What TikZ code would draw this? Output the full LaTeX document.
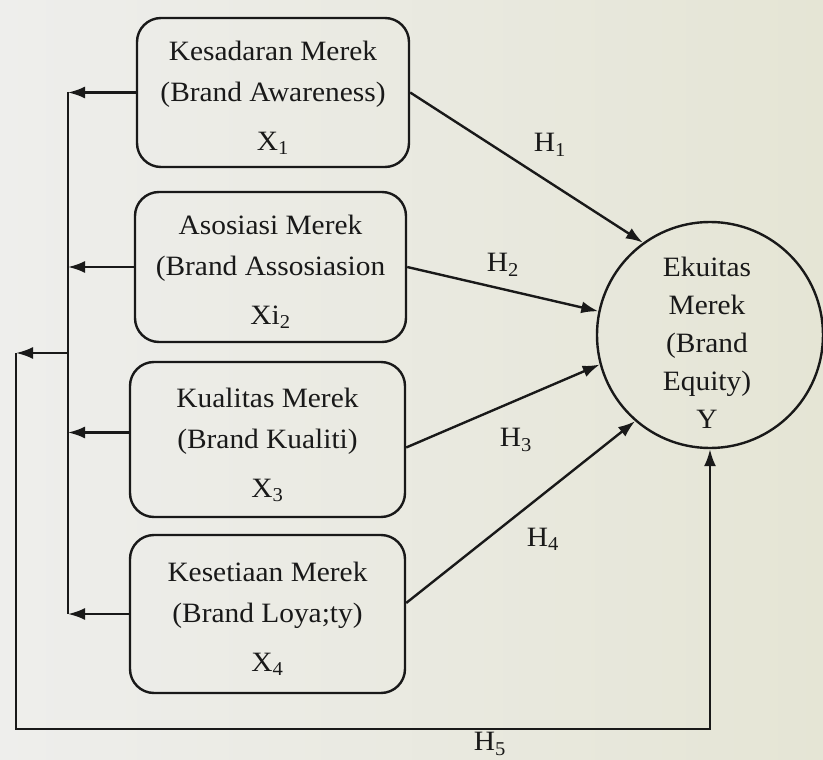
\documentclass[tikz,border=0pt]{standalone}
\usepackage{fontspec}
\setmainfont{Liberation Serif}[FakeStretch=1.05]
\usetikzlibrary{arrows.meta,calc}
\definecolor{bgL}{RGB}{238,238,236}
\definecolor{bgR}{RGB}{229,229,213}
\definecolor{ink}{RGB}{25,25,25}
\begin{document}
\begin{tikzpicture}[x=1pt,y=-1pt,
  font=\fontsize{28}{41}\selectfont, text=ink,
  boxn/.style={draw=ink, line width=2.4pt, rounded corners=24pt, inner sep=0pt},
  txt/.style={align=center, inner sep=0pt},
  ln/.style={draw=ink, line width=2.4pt},
  arr/.style={ln, -{Latex[length=17pt,width=12pt]}},
  lbl/.style={inner sep=0pt}]
% background
\shade[left color=bgL, right color=bgR, middle color=bgL!50!bgR] (0,0) rectangle (823,760);
\useasboundingbox (0,0) rectangle (823,760);
% boxes
\node[boxn, minimum width=272pt, minimum height=149pt] (b1) at (273,92.5) {};
\node[boxn, minimum width=271pt, minimum height=150pt] (b2) at (270.5,267) {};
\node[boxn, minimum width=275pt, minimum height=155pt] (b3) at (267.5,439.5) {};
\node[boxn, minimum width=275pt, minimum height=158pt] (b4) at (267.5,614) {};
\node[txt] (t1) at (273,98) {Kesadaran Merek\\(Brand Awareness)\\[8pt]X\textsubscript{1}};
\node[txt] (t2) at (270.5,272) {Asosiasi Merek\\(Brand Assosiasion\\[8pt]Xi\textsubscript{2}};
\node[txt] (t3) at (267.5,445) {Kualitas Merek\\(Brand Kualiti)\\[8pt]X\textsubscript{3}};
\node[txt] (t4) at (267.5,619) {Kesetiaan Merek\\(Brand Loya;ty)\\[8pt]X\textsubscript{4}};
% circle
\node[draw=ink, line width=2.4pt, circle, minimum size=226pt, inner sep=0pt] (Y) at (710,335) {};
\node[txt, font=\fontsize{28}{38}\selectfont] (ty) at (707,343) {Ekuitas\\Merek\\(Brand\\Equity)\\Y};
% bus on the left
\coordinate (bt) at (68,92);
\coordinate (bm) at (68,353);
\coordinate (bb) at (68,614);
\coordinate (c1) at (16,353);
\coordinate (c2) at (16,729);
\draw[ln] (bt) -- (bb);
\draw[arr] (b1.west) -- (b1.west -| bt);
\draw[arr] (b2.west) -- (b2.west -| bt);
\draw[arr] ([yshift=7pt]b3.west) -- ([yshift=7pt]b3.west -| bt);
\draw[arr] (b4.west) -- (b4.west -| bt);
\draw[arr] (bm) -- (c1);
\draw[arr] (c1) -- (c2) -| (Y.south);
% hypothesis arrows
\draw[arr] (b1.east) -- (Y.126);
\draw[arr] (b2.east) -- (Y.168);
\draw[arr] ([yshift=-8pt]b3.east) -- (Y.195);
\draw[arr] ([yshift=11pt]b4.east) -- (Y.229);
% labels
\node[lbl] (h1) at (550,145) {H\textsubscript{1}};
\node[lbl] (h2) at (503,265) {H\textsubscript{2}};
\node[lbl] (h3) at (516,440) {H\textsubscript{3}};
\node[lbl] (h4) at (543,539) {H\textsubscript{4}};
\node[lbl] (h5) at (490,744) {H\textsubscript{5}};
\end{tikzpicture}
\end{document}
